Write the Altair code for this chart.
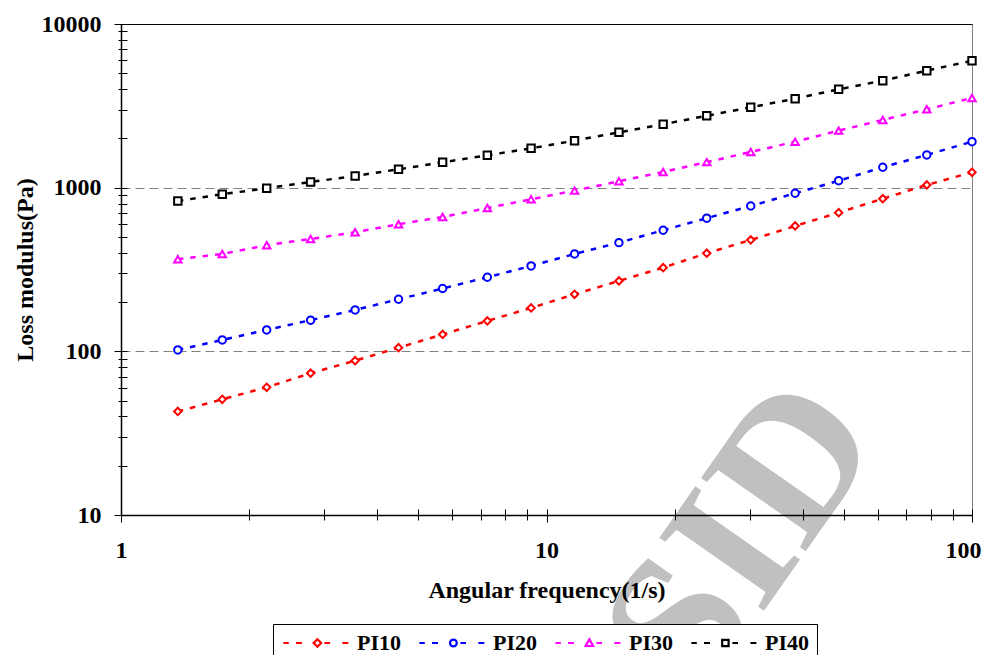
import altair as alt
import pandas as pd

# ---- data ----
freq = [1.36, 1.73, 2.2, 2.79, 3.55, 4.49, 5.7, 7.26, 9.2, 11.64,
        14.8, 18.8, 23.8, 30.2, 38.4, 48.6, 61.7, 78.3, 100]
pi10 = [42.9, 50.9, 60.3, 73.5, 87.7, 105.3, 126.8, 153.4, 184.2, 223.2,
        269.2, 324.6, 397.5, 479.3, 583.5, 703.7, 856.5, 1039, 1242]
pi20 = [102, 117.4, 135.1, 155, 179, 208, 242, 283.6, 332.5, 393.6,
        461.4, 549.5, 651, 773, 924, 1103, 1333, 1585, 1910]
pi30 = [365.5, 393.6, 444.7, 486, 534, 597.7, 662, 751, 849, 959,
        1094, 1247, 1432, 1652, 1910, 2230, 2592, 3012, 3532]
pi40 = [829, 912, 992, 1083, 1179, 1295, 1429, 1577, 1740, 1937,
        2180, 2440, 2750, 3099, 3497, 3991, 4505, 5184, 5967]

series_names = ["PI10", "PI20", "PI30", "PI40"]
series_values = [pi10, pi20, pi30, pi40]
series_colors = ["#ff0000", "#0000ff", "#ff00ff", "#000000"]
marker_shapes = ["diamond", "circle", "triangle-up", "square"]

x_major = [1, 10, 100]
y_major = [10, 100, 1000, 10000]
x_minor = [1, 2, 3, 4, 5, 6, 7, 8, 9, 10, 20, 30, 40, 50, 60, 70, 80, 90, 100]
y_minor = [10, 20, 30, 40, 50, 60, 70, 80, 90,
           100, 200, 300, 400, 500, 600, 700, 800, 900,
           1000, 2000, 3000, 4000, 5000, 6000, 7000, 8000, 9000, 10000]

# legend symbols: dashed line segments with the series marker in the middle
_dashes = "M-2.15,0L-0.8,0M1.0,0L2.5,0M8.1,0L9.5,0M12.6,0L14.1,0"
legend_paths = [
    _dashes + "M6.35,-0.95L7.3,0L6.35,0.95L5.4,0Z",
    _dashes + "M7.2,0A0.85,0.85 0 1 1 5.5,0A0.85,0.85 0 1 1 7.2,0Z",
    _dashes + "M6.35,-0.95L7.3,0.75L5.4,0.75Z",
    _dashes + "M5.55,-0.8L7.15,-0.8L7.15,0.8L5.55,0.8Z",
]

rows = []
for name, vals in zip(series_names, series_values):
    for f, v in zip(freq, vals):
        rows.append({"freq": f, "modulus": v, "series": name})
df = pd.DataFrame(rows)

FONT = "Liberation Serif"

x_scale = alt.Scale(type="log", domain=[1, 100], nice=False)
y_scale = alt.Scale(type="log", domain=[10, 10000], nice=False)
stroke_scale = alt.Scale(domain=series_names, range=series_colors)

x_main_axis = alt.Axis(
    orient="bottom", values=x_major, format="d", grid=False,
    tickSize=7, tickColor="black", tickWidth=1,
    domainColor="black", domainWidth=1.5,
    labelFont=FONT, labelFontSize=24, labelFontWeight="bold", labelColor="black",
    labelPadding=16, labelFlush=False, labelOverlap=False,
    labelAlign={"condition": {"test": "datum.value >= 100", "value": "right"}, "value": "center"},
    labelOffset={"condition": {"test": "datum.value >= 100", "value": 9}, "value": 0},
    title="Angular frequency(1/s)", titleFont=FONT, titleFontSize=24,
    titleFontWeight="bold", titleColor="black", titlePadding=16, zindex=1,
)
y_main_axis = alt.Axis(
    orient="left", values=y_major, format="d",
    grid=True, gridColor="#808080", gridDash=[9, 5], gridWidth=1.2,
    tickSize=7, tickColor="black", tickWidth=1,
    domainColor="black", domainWidth=1.5,
    labelFont=FONT, labelFontSize=24, labelFontWeight="bold", labelColor="black",
    labelPadding=13, labelFlush=False, labelOverlap=False,
    title="Loss modulus(Pa)", titleFont=FONT, titleFontSize=24,
    titleFontWeight="bold", titleColor="black", titlePadding=4,
)
x_tick_axis = alt.Axis(
    orient="bottom", values=x_minor, labels=False, domain=False, grid=False,
    tickSize=11, tickColor="black", tickWidth=1, offset=-6, title=None, zindex=1,
)
y_tick_axis = alt.Axis(
    orient="left", values=y_minor, labels=False, domain=False, grid=False,
    tickSize=9, tickColor="black", tickWidth=1, offset=-6, title=None,
)
x_top_axis = alt.Axis(
    orient="top", labels=False, ticks=False, grid=False, domain=True,
    domainColor="black", domainWidth=1.2, title=None,
)

watermark = alt.Chart(pd.DataFrame({"mark": ["SID"]})).mark_text(
    font=FONT, fontSize=195, fontWeight="bold", color="#c0c0c0", angle=305,
    align="center", baseline="middle",
).encode(text="mark:N", x=alt.value(622), y=alt.value(514))

lines = alt.Chart(df).mark_line(strokeWidth=2.5, strokeDash=[5.5, 7]).encode(
    x=alt.X("freq:Q", scale=x_scale, axis=x_main_axis),
    y=alt.Y("modulus:Q", scale=y_scale, axis=y_main_axis),
    stroke=alt.Stroke("series:N", scale=stroke_scale, legend=None),
)

points = alt.Chart(df).mark_point(
    filled=True, fill="white", strokeWidth=2, size=55, opacity=1,
).encode(
    x=alt.X("freq:Q", scale=x_scale, axis=x_tick_axis),
    y=alt.Y("modulus:Q", scale=y_scale, axis=y_tick_axis),
    stroke=alt.Stroke("series:N", scale=stroke_scale, legend=None),
    shape=alt.Shape("series:N", scale=alt.Scale(domain=series_names, range=marker_shapes), legend=None),
)

legend_layer = alt.Chart(df).mark_point(
    opacity=0, filled=False, size=64, strokeWidth=2.2,
).encode(
    x=alt.X("freq:Q", scale=x_scale, axis=x_top_axis),
    y=alt.Y("modulus:Q", scale=y_scale, axis=None),
    color=alt.Color(
        "series:N",
        scale=alt.Scale(domain=series_names, range=series_colors),
        legend=alt.Legend(
            title=None, orient="none", legendX=152, legendY=600,
            direction="horizontal",
            labelFont=FONT, labelFontSize=22, labelFontWeight="bold", labelColor="black",
            labelOffset=54, labelLimit=200,
            symbolSize=64, symbolStrokeWidth=2.2, symbolOpacity=1,
            columnPadding=14, padding=8,
            strokeColor="black", fillColor="white",
        ),
    ),
    shape=alt.Shape(
        "series:N",
        scale=alt.Scale(domain=series_names, range=legend_paths),
        legend=alt.Legend(title=None),
    ),
)

chart = alt.layer(watermark, lines, points, legend_layer).resolve_scale(
    color="independent", shape="independent"
).resolve_axis(
    x="independent", y="independent"
).properties(
    width=851, height=491,
    autosize=alt.AutoSizeParams(type="none"),
    padding={"left": 113, "top": 16, "right": 10, "bottom": 150},
).configure_view(stroke="#808080", strokeWidth=1)

chart.save("out.html", embed_options={"renderer": "svg", "actions": False})
